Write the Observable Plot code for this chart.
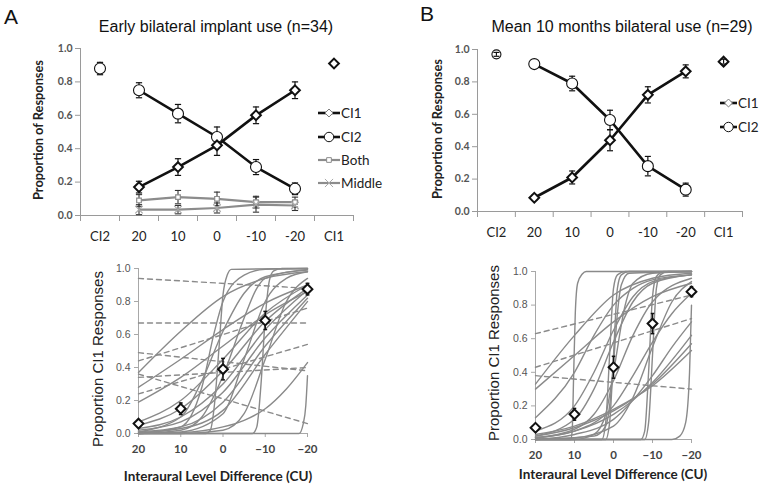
<!DOCTYPE html>
<html><head><meta charset="utf-8">
<script src="https://cdn.jsdelivr.net/npm/d3@7"></script>
<script src="https://cdn.jsdelivr.net/npm/@observablehq/plot@0.6"></script>
<style>
body{margin:0;background:#fff;}
#fig{position:relative;width:764px;height:487px;overflow:hidden;background:#fff;font-family:"Liberation Sans",Arial,sans-serif;}
.abs{position:absolute;white-space:nowrap;line-height:1;}
</style></head><body><div id="fig"></div>
<script>
// ---------- data ----------
const categories = ["CI2","20","10","0","-10","-20","CI1"];
const ildLevels = [20, 10, 0, -10, -20];
const yTicks = [0, 0.2, 0.4, 0.6, 0.8, 1.0];

// Panel A (top): early bilateral implant use
const aCI1 = [0.17, 0.29, 0.42, 0.60, 0.75];
const aCI1Err = [0.035, 0.05, 0.06, 0.05, 0.05];
const aCI2 = [0.75, 0.61, 0.47, 0.29, 0.16];
const aCI2Err = [0.045, 0.055, 0.06, 0.045, 0.035];
const aBoth = [0.09, 0.11, 0.10, 0.08, 0.08];
const aBothErr = [0.035, 0.04, 0.04, 0.035, 0.03];
const aMiddle = [0.035, 0.035, 0.045, 0.065, 0.06];
const aMiddleErr = [0.03, 0.025, 0.03, 0.045, 0.03];
const aAloneCI2 = [0.88], aAloneCI2Err = [0.037];
const aAloneCI1 = [0.91], aAloneCI1Err = [0.012];

// Panel B (top): mean 10 months bilateral use
const bCI1 = [0.085, 0.21, 0.44, 0.72, 0.865];
const bCI1Err = [0.015, 0.04, 0.065, 0.05, 0.04];
const bCI2 = [0.91, 0.79, 0.565, 0.28, 0.135];
const bCI2Err = [0.02, 0.045, 0.06, 0.06, 0.04];
const bAloneCI2 = [0.97], bAloneCI2Err = [0.012];
const bAloneCI1 = [0.925], bAloneCI1Err = [0.015];

// Bottom panels: proportion CI1 responses (group means)
const pA = [0.06, 0.15, 0.39, 0.685, 0.875];
const pAErr = [0.015, 0.035, 0.065, 0.055, 0.035];
const pB = [0.07, 0.15, 0.43, 0.69, 0.88];
const pBErr = [0.012, 0.035, 0.065, 0.06, 0.03];

// individual fitted curves as [ILD, proportion]
const fitsA = [
  [[20,0],[4,0],[3,0.02],[2,0.18],[1,0.5],[0,0.84],[-1,0.96],[-2,0.995],[-20,1]],
  [[20,0],[-7,0],[-8,0.04],[-9,0.3],[-10,0.7],[-11,0.93],[-12,0.985],[-14,1],[-20,1]],
  [[20,0],[-18,0],[-19,0.06],[-19.6,0.17],[-20,0.35]],
  [[20,0],[10,0.005],[0,0.04],[-5,0.08],[-10,0.15],[-15,0.27],[-20,0.43]],
  [[20,0.37],[10,0.62],[0,0.83],[-10,0.94],[-20,0.98]],
  [[20,0.28],[10,0.45],[0,0.63],[-10,0.79],[-20,0.9]],
  [[20,0.19],[10,0.34],[0,0.53],[-10,0.72],[-20,0.86]],
  [[20,0.07],[10,0.2],[0,0.45],[-10,0.73],[-20,0.9]],
  [[20,0.05],[10,0.15],[0,0.38],[-10,0.68],[-20,0.88]],
  [[20,0.03],[10,0.1],[0,0.3],[-10,0.63],[-20,0.87]],
  [[20,0.02],[10,0.07],[0,0.25],[-10,0.58],[-20,0.84]],
  [[20,0.01],[10,0.04],[0,0.19],[-10,0.53],[-20,0.82]],
  [[20,0.005],[10,0.03],[0,0.14],[-10,0.48],[-20,0.8]],
  [[20,0],[10,0.04],[5,0.28],[2,0.62],[0,0.8],[-5,0.96],[-10,0.995],[-20,1]],
  [[20,0.01],[10,0.1],[5,0.32],[0,0.62],[-5,0.85],[-10,0.95],[-20,0.99]],
  [[20,0],[10,0.02],[5,0.1],[0,0.35],[-5,0.7],[-8,0.88],[-10,0.94],[-20,0.995]],
  [[20,0],[10,0.01],[0,0.12],[-5,0.45],[-10,0.8],[-15,0.94],[-20,0.98]],
  [[20,0],[10,0],[0,0.02],[-5,0.12],[-10,0.45],[-15,0.8],[-20,0.94]]
];
const flatA = [
  [[20,0.94],[-20,0.88]],
  [[20,0.67],[-20,0.67]],
  [[20,0.44],[-20,0.76]],
  [[20,0.49],[-20,0.38]],
  [[20,0.24],[-20,0.54]],
  [[20,0.34],[-20,0.40]],
  [[20,0.36],[-20,0.06]]
];
const fitsB = [
  [[20,0],[11,0],[10.6,0.05],[10.2,0.4],[9.8,0.75],[9.2,0.93],[8,0.985],[7,1],[-20,1]],
  [[20,0],[3,0],[2,0.1],[1,0.5],[0,0.9],[-1,0.98],[-3,1],[-20,1]],
  [[20,0],[2,0],[1,0.1],[0,0.5],[-1,0.9],[-2,0.98],[-4,1],[-20,1]],
  [[20,0],[5,0.02],[2,0.08],[1,0.2],[0,0.45],[-1,0.75],[-2,0.92],[-4,0.99],[-20,1]],
  [[20,0],[-7,0],[-8,0.05],[-9,0.4],[-10,0.85],[-11,0.97],[-13,1],[-20,1]],
  [[20,0],[-8,0],[-9,0.1],[-10,0.5],[-11,0.9],[-12,0.98],[-14,1],[-20,1]],
  [[20,0],[-15,0],[-17,0.02],[-18.5,0.1],[-19.5,0.4],[-20,0.8]],
  [[20,0.33],[10,0.62],[0,0.86],[-10,0.96],[-20,0.99]],
  [[20,0.3],[10,0.5],[0,0.7],[-10,0.85],[-20,0.93]],
  [[20,0.13],[10,0.4],[5,0.62],[0,0.8],[-5,0.9],[-10,0.95],[-20,0.98]],
  [[20,0.05],[10,0.2],[5,0.4],[0,0.65],[-5,0.85],[-10,0.94],[-20,0.98]],
  [[20,0.02],[10,0.12],[5,0.3],[0,0.58],[-5,0.82],[-10,0.93],[-20,0.98]],
  [[20,0.01],[10,0.06],[5,0.15],[0,0.35],[-5,0.62],[-10,0.82],[-20,0.96]],
  [[20,0.01],[10,0.05],[0,0.2],[-5,0.38],[-10,0.58],[-15,0.75],[-20,0.87]],
  [[20,0],[10,0.03],[0,0.12],[-10,0.38],[-15,0.55],[-20,0.7]],
  [[20,0.01],[10,0.05],[0,0.15],[-10,0.34],[-20,0.62]],
  [[20,0.02],[10,0.07],[0,0.17],[-10,0.33],[-20,0.57]],
  [[20,0.03],[10,0.08],[0,0.18],[-10,0.32],[-20,0.53]],
  [[20,0],[10,0.01],[0,0.08],[-5,0.25],[-10,0.55],[-15,0.82],[-20,0.94]],
  [[20,0],[10,0],[5,0.03],[2,0.15],[0,0.4],[-3,0.8],[-5,0.93],[-10,0.99],[-20,1]]
];
const flatB = [
  [[20,0.63],[-20,0.86]],
  [[20,0.43],[-20,0.72]],
  [[20,0.38],[-20,0.30]]
];

// ---------- helpers ----------
const fig = d3.select("#fig");
function addText(txt, cx, cy, css, rotate) {
  fig.append("div").attr("class", "abs").text(txt)
    .attr("style", css + `;left:${cx}px;top:${cy}px;transform:translate(-50%,-50%)${rotate ? " rotate(-90deg)" : ""}`);
}
function place(node, left, top) {
  fig.append("div").attr("class", "abs").style("left", left + "px").style("top", top + "px").node().appendChild(node);
}
const rows = (xs, vals, errs) => vals.map((v, i) => ({x: xs[i], y: v, lo: v - errs[i], hi: v + errs[i]}));
function errorBars(data, capHalf, stroke, sw) {
  return [
    Plot.ruleX(data, {x: "x", y1: "lo", y2: "hi", stroke, strokeWidth: sw}),
    Plot.link(data, {x1: d => d.x - capHalf, x2: d => d.x + capHalf, y1: "lo", y2: "lo", stroke, strokeWidth: sw}),
    Plot.link(data, {x1: d => d.x - capHalf, x2: d => d.x + capHalf, y1: "hi", y2: "hi", stroke, strokeWidth: sw})
  ];
}
const levelPos = ildLevels.map((_, i) => i + 1);   // category index of each ILD level
const grayLine = "#8c8c8c";

function topPanel(o) {
  const c1 = rows(levelPos, o.ci1, o.ci1Err);
  const c2 = rows(levelPos, o.ci2, o.ci2Err);
  const u2 = rows([0], o.alone2, o.alone2Err);
  const u1 = rows([categories.length - 1], o.alone1, o.alone1Err);
  const both = o.both ? rows(levelPos, o.both, o.bothErr) : [];
  const mid = o.middle ? rows(levelPos, o.middle, o.middleErr) : [];
  const cap = 0.08;
  const aloneBars = [...errorBars(u1, cap, "#111", 1.2), ...errorBars(u2, cap, "#111", 1.2)];
  return Plot.plot({
    width: o.w, height: o.h,
    marginLeft: o.ml, marginRight: o.mr, marginTop: o.mt, marginBottom: o.mb,
    style: {background: "transparent", fontFamily: "Lato, 'Open Sans', sans-serif", overflow: "visible"},
    x: {type: "linear", domain: [-0.5, categories.length - 0.5]},
    y: {domain: [0, 1]},
    marks: [
      Plot.ruleX([-0.5], {stroke: "#9a9a9a"}),
      Plot.ruleY([0], {stroke: "#9a9a9a"}),
      Plot.axisY(yTicks, {tickFormat: d3.format(".1f"), tickSize: 5, tickPadding: 3, fontSize: 10.5, fontWeight: "bold", fill: "#555", stroke: "#9a9a9a", label: null}),
      Plot.axisX(d3.range(-0.5, categories.length, 1), {tickSize: 6, tickFormat: () => "", stroke: "#9a9a9a", label: null}),
      Plot.axisX(d3.range(0, categories.length), {tickSize: 0, tickPadding: 16, tickFormat: i => categories[i], fontSize: 13, fill: "#222", label: null}),
      Plot.line(both, {x: "x", y: "y", stroke: grayLine, strokeWidth: 2.2}),
      Plot.line(mid, {x: "x", y: "y", stroke: grayLine, strokeWidth: 2.2}),
      ...errorBars(both, cap, "#333", 1.1),
      ...errorBars(mid, cap, "#333", 1.1),
      Plot.dot(both, {x: "x", y: "y", symbol: "square", r: 2.6, fill: "white", stroke: grayLine, strokeWidth: 1.2}),
      Plot.dot(mid, {x: "x", y: "y", symbol: "times", r: 3.5, stroke: "#aaa", strokeWidth: 1.2}),
      ...errorBars(c1, cap, "#111", 1.2),
      ...errorBars(c2, cap, "#111", 1.2),
      ...(o.aloneBarsOnTop ? [] : aloneBars),
      Plot.line(c1, {x: "x", y: "y", stroke: "#111", strokeWidth: 2.6}),
      Plot.line(c2, {x: "x", y: "y", stroke: "#111", strokeWidth: 2.6}),
      Plot.dot(c2, {x: "x", y: "y", symbol: "circle", r: 5.5, fill: "white", stroke: "#111", strokeWidth: 1.1}),
      Plot.dot(u2, {x: "x", y: "y", symbol: "circle", r: o.aloneR, fill: "white", stroke: "#111", strokeWidth: 1.1}),
      Plot.dot(c1.concat(u1), {x: "x", y: "y", symbol: "diamond2", r: 4.4, fill: "white", stroke: "#111", strokeWidth: 2}),
      ...(o.aloneBarsOnTop ? aloneBars : [])
    ]
  });
}

function fitPanel(o) {
  const solid = o.fits.flatMap((pts, k) => pts.map(([x, y]) => ({k, x, y})));
  const dashed = o.flat.flatMap((pts, k) => pts.map(([x, y]) => ({k, x, y})));
  const means = rows(ildLevels, o.p, o.pErr);
  return Plot.plot({
    width: o.w, height: o.h,
    marginLeft: o.ml, marginRight: o.mr, marginTop: o.mt, marginBottom: o.mb,
    style: {background: "transparent", fontFamily: "Lato, 'Open Sans', sans-serif", overflow: "visible"},
    x: {domain: [ildLevels[0], ildLevels[ildLevels.length - 1]]},
    y: {domain: [0, 1]},
    marks: [
      Plot.ruleX([ildLevels[0]], {stroke: "#a8a8a8"}),
      Plot.ruleY([0], {stroke: "#a8a8a8"}),
      Plot.axisY(yTicks, {tickFormat: d3.format(".1f"), tickSize: 4, tickPadding: 4, fontSize: 10.5, fontFamily: "'Liberation Sans', Arial, sans-serif", fill: "#555", stroke: "#a8a8a8", label: null}),
      Plot.axisX(ildLevels, {tickSize: 4, tickPadding: 7, fontSize: 11.5, fontWeight: "bold", fill: "#444", stroke: "#a8a8a8", label: null}),
      Plot.line(dashed, {x: "x", y: "y", z: "k", stroke: "#8a8a8a", strokeWidth: 1.4, strokeDasharray: "5,4"}),
      Plot.line(solid, {x: "x", y: "y", z: "k", curve: "monotone-x", stroke: "#8a8a8a", strokeWidth: 1.4}),
      ...errorBars(means, 0.45, "#111", 1.5),
      Plot.dot(means, {x: "x", y: "y", symbol: "diamond2", r: 4.4, fill: "white", stroke: "#111", strokeWidth: 2})
    ]
  });
}

function legend(svgNode, items, x0, x1, ys) {
  const g = d3.select(svgNode).append("g").attr("text-anchor", "start");
  items.forEach((it, i) => {
    const y = ys[i];
    g.append("line").attr("x1", x0).attr("x2", x1).attr("y1", y).attr("y2", y)
      .attr("stroke", it.stroke).attr("stroke-width", it.sw);
    const cx = (x0 + x1) / 2;
    const sym = d3.symbol().type(it.symbol).size(it.size)();
    g.append("path").attr("d", sym).attr("transform", `translate(${cx},${y})`)
      .attr("fill", it.fill).attr("stroke", it.markStroke).attr("stroke-width", 1);
    g.append("text").attr("x", x1 + 1).attr("y", y).attr("dy", "0.36em").attr("text-anchor", "start")
      .attr("font-size", 13.5).attr("font-family", "Lato, sans-serif").attr("fill", "#222").text(it.label);
  });
}

// ---------- top A ----------
const topA = topPanel({w: 380, h: 245, ml: 80, mr: 27, mt: 48, mb: 30, aloneR: 5.5, aloneBarsOnTop: false,
  ci1: aCI1, ci1Err: aCI1Err, ci2: aCI2, ci2Err: aCI2Err,
  alone1: aAloneCI1, alone1Err: aAloneCI1Err, alone2: aAloneCI2, alone2Err: aAloneCI2Err,
  both: aBoth, bothErr: aBothErr, middle: aMiddle, middleErr: aMiddleErr});
legend(topA, [
  {label: "CI1", stroke: "#111", sw: 2.6, symbol: d3.symbolDiamond2, size: 40, fill: "white", markStroke: "#777"},
  {label: "CI2", stroke: "#111", sw: 2.6, symbol: d3.symbolCircle, size: 70, fill: "white", markStroke: "#111"},
  {label: "Both", stroke: grayLine, sw: 2.2, symbol: d3.symbolSquare, size: 22, fill: "white", markStroke: grayLine},
  {label: "Middle", stroke: grayLine, sw: 2.2, symbol: d3.symbolTimes, size: 45, fill: "none", markStroke: "#aaa"}
], 318, 340, [113, 137, 160, 183]);
place(topA, 0, 0);

// ---------- top B ----------
const topB = topPanel({w: 384, h: 245, ml: 97, mr: 22, mt: 49, mb: 34, aloneR: 4.5, aloneBarsOnTop: true,
  ci1: bCI1, ci1Err: bCI1Err, ci2: bCI2, ci2Err: bCI2Err,
  alone1: bAloneCI1, alone1Err: bAloneCI1Err, alone2: bAloneCI2, alone2Err: bAloneCI2Err});
legend(topB, [
  {label: "CI1", stroke: "#111", sw: 2.6, symbol: d3.symbolDiamond2, size: 40, fill: "white", markStroke: "#777"},
  {label: "CI2", stroke: "#111", sw: 2.6, symbol: d3.symbolCircle, size: 70, fill: "white", markStroke: "#111"}
], 340, 357, [103, 127]);
place(topB, 380, 0);

// ---------- bottom A ----------
const botA = fitPanel({w: 380, h: 237, ml: 138, mr: 73, mt: 18, mb: 54, fits: fitsA, flat: flatA, p: pA, pErr: pAErr});
place(botA, 0, 250);
// ---------- bottom B ----------
const botB = fitPanel({w: 384, h: 237, ml: 155, mr: 73, mt: 21, mb: 48, fits: fitsB, flat: flatB, p: pB, pErr: pBErr});
place(botB, 380, 250);

// ---------- texts ----------
addText("A", 11, 16, "font-size:21px;color:#111");
addText("B", 427, 13, "font-size:21px;color:#111");
addText("Early bilateral implant use (n=34)", 216, 27, "font-size:16px;color:#111");
addText("Mean 10 months bilateral use (n=29)", 622, 27, "font-size:16px;color:#111");
addText("Proportion of Responses", 38, 130, "font-family:Lato,sans-serif;font-weight:bold;font-size:12.8px;color:#222", true);
addText("Proportion of Responses", 437, 129, "font-family:Lato,sans-serif;font-weight:bold;font-size:12.8px;color:#222", true);
addText("Proportion CI1 Responses", 97, 359, "font-size:15px;color:#222", true);
addText("Proportion CI1 Responses", 493, 353, "font-size:15px;color:#222", true);
addText("Interaural Level Difference (CU)", 218, 477, "font-family:Lato,sans-serif;font-weight:bold;font-size:13.5px;color:#222");
addText("Interaural Level Difference (CU)", 613, 475, "font-family:Lato,sans-serif;font-weight:bold;font-size:13.5px;color:#222");
</script></body></html>
